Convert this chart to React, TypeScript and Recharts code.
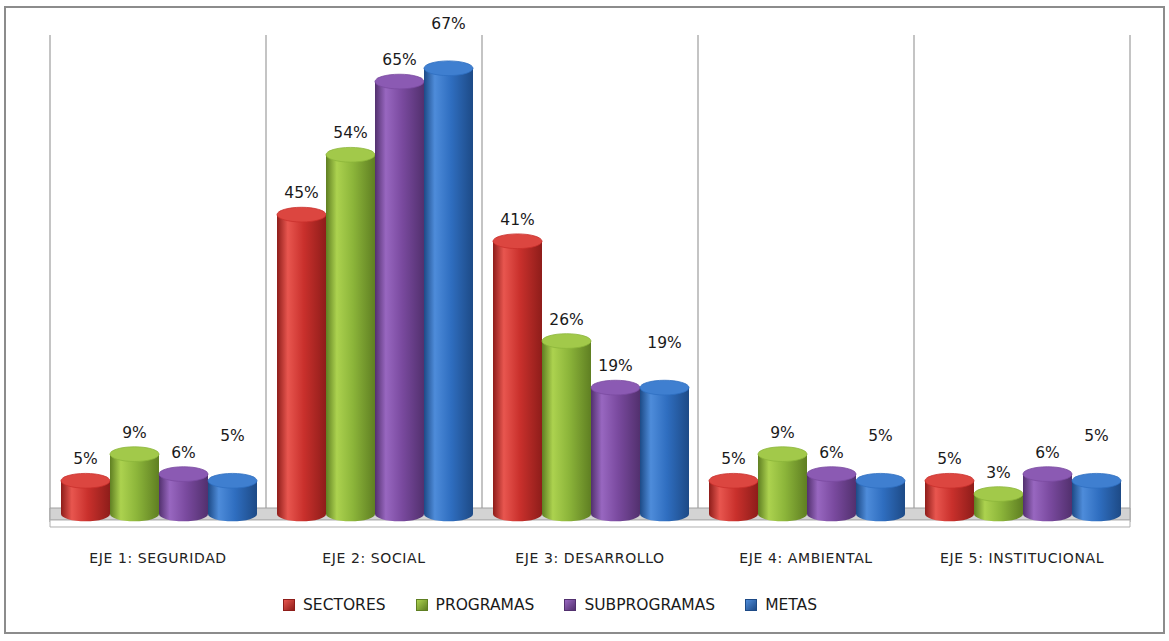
import { BarChart, Bar, XAxis, YAxis, CartesianGrid, LabelList, ReferenceArea } from "recharts";

// categories and values (percent)
const CATEGORIES = ["EJE 1: SEGURIDAD", "EJE 2: SOCIAL", "EJE 3: DESARROLLO", "EJE 4: AMBIENTAL", "EJE 5: INSTITUCIONAL"];
const SECTORES = [5, 45, 41, 5, 5];
const PROGRAMAS = [9, 54, 26, 9, 3];
const SUBPROGRAMAS = [6, 65, 19, 6, 6];
const METAS = [5, 67, 19, 5, 5];

const SERIES = [
  { key: "sectores", name: "SECTORES", values: SECTORES },
  { key: "programas", name: "PROGRAMAS", values: PROGRAMAS },
  { key: "subprogramas", name: "SUBPROGRAMAS", values: SUBPROGRAMAS },
  { key: "metas", name: "METAS", values: METAS },
];

// base / light / dark shades for the cylinder look
const COLORS: Record<string, { base: string; light: string; dark: string; top: string }> = {
  sectores: { base: "#c9302c", light: "#e8564f", dark: "#8e1d1a", top: "#dc4640" },
  programas: { base: "#8cb53a", light: "#acd24f", dark: "#5f7f22", top: "#a2c94a" },
  subprogramas: { base: "#7a4a9f", light: "#9867c0", dark: "#52306e", top: "#8b5ab3" },
  metas: { base: "#2f6ec0", light: "#4e8cda", dark: "#1d4a86", top: "#3f7fd0" },
};

// labels on METAS sit higher in the original 3D chart
const LABEL_OFFSET: Record<string, number> = { sectores: 17, programas: 17, subprogramas: 17, metas: 40 };

const FONT = "'DejaVu Sans', sans-serif";

const data = CATEGORIES.map((c, i) => {
  const row: Record<string, string | number> = { name: c };
  SERIES.forEach((s) => (row[s.key] = s.values[i]));
  return row;
});

const Cylinder = (props: any) => {
  const { x, y, width, height, seriesKey } = props;
  if (width == null || height == null) return null;
  const c = COLORS[seriesKey];
  const rx = width / 2;
  const ry = width * 0.15;
  const gid = `cyl-${seriesKey}`;
  const bottom = y + height;
  return (
    <g>
      <defs>
        <linearGradient id={gid} x1="0" y1="0" x2="1" y2="0">
          <stop offset="0%" stopColor={c.dark} />
          <stop offset="22%" stopColor={c.light} />
          <stop offset="55%" stopColor={c.base} />
          <stop offset="100%" stopColor={c.dark} />
        </linearGradient>
      </defs>
      <path
        d={`M${x},${y} L${x},${bottom} A${rx},${ry} 0 0 0 ${x + width},${bottom} L${x + width},${y} Z`}
        fill={`url(#${gid})`}
      />
      <ellipse cx={x + rx} cy={y} rx={rx} ry={ry} fill={c.top} stroke={c.base} strokeWidth={0.8} />
    </g>
  );
};

const makeLabel = (seriesKey: string) => (p: any) => {
  const { x, y, width, value } = p;
  const ry = width * 0.15;
  return (
    <text
      x={x + width / 2}
      y={y - ry - LABEL_OFFSET[seriesKey] + 8}
      textAnchor="middle"
      fontFamily={FONT}
      fontSize={15.5}
      fill="#1a1a1a"
    >
      {`${value}%`}
    </text>
  );
};

const CategoryTick = (p: any) => (
  <text x={p.x} y={563} textAnchor="middle" fontFamily={FONT} fontSize={14} letterSpacing={0.6} fill="#222">
    {p.payload.value}
  </text>
);

const ChartLegend = () => (
  <div
    style={{
      position: "absolute",
      left: 283,
      top: 596,
      display: "flex",
      gap: 30,
      fontFamily: FONT,
      fontSize: 15.5,
      color: "#1a1a1a",
      whiteSpace: "nowrap",
    }}
  >
    {SERIES.map((s) => (
      <div key={s.key} style={{ display: "flex", alignItems: "center", gap: 8 }}>
        <span
          style={{
            display: "inline-block",
            width: 10,
            height: 10,
            background: `linear-gradient(135deg, ${COLORS[s.key].light}, ${COLORS[s.key].dark})`,
            border: `1px solid ${COLORS[s.key].dark}`,
          }}
        />
        <span>{s.name}</span>
      </div>
    ))}
  </div>
);

const App = () => {
  return (
    <div style={{ position: "absolute", left: 0, top: 0, width: 1169, height: 641, background: "#fff" }}>
      <div
        style={{
          position: "absolute",
          left: 4,
          top: 6,
          width: 1157,
          height: 624,
          border: "2px solid #8c8c8c",
        }}
      />
      <BarChart
        width={1169}
        height={641}
        data={data}
        margin={{ top: 35, right: 39, left: 50, bottom: 118 }}
        barCategoryGap={11}
        barGap={0}
      >
        <CartesianGrid
          horizontal={false}
          stroke="#c4c4c4"
          strokeWidth={2}
          verticalCoordinatesGenerator={({ offset }: any) =>
            [0, 1, 2, 3, 4, 5].map((i) => offset.left + (i * offset.width) / 5)
          }
        />
        <ReferenceArea y1={-0.9} y2={0.9} fill="#d3d3d3" fillOpacity={1} stroke="#a0a0a0" ifOverflow="visible" />
        <ReferenceArea y1={-1.95} y2={-0.9} fill="#ffffff" fillOpacity={1} stroke="#b0b0b0" ifOverflow="visible" />
        <XAxis dataKey="name" height={1} axisLine={false} tickLine={false} tick={<CategoryTick />} interval={0} />
        <YAxis hide domain={[-1.2, 72]} allowDataOverflow />
        {SERIES.map((s) => (
          <Bar
            key={s.key}
            dataKey={s.key}
            name={s.name}
            fill={COLORS[s.key].base}
            isAnimationActive={false}
            shape={(p: any) => <Cylinder {...p} seriesKey={s.key} />}
          >
            <LabelList dataKey={s.key} content={makeLabel(s.key)} />
          </Bar>
        ))}
      </BarChart>
      <ChartLegend />
    </div>
  );
};

export default App;
